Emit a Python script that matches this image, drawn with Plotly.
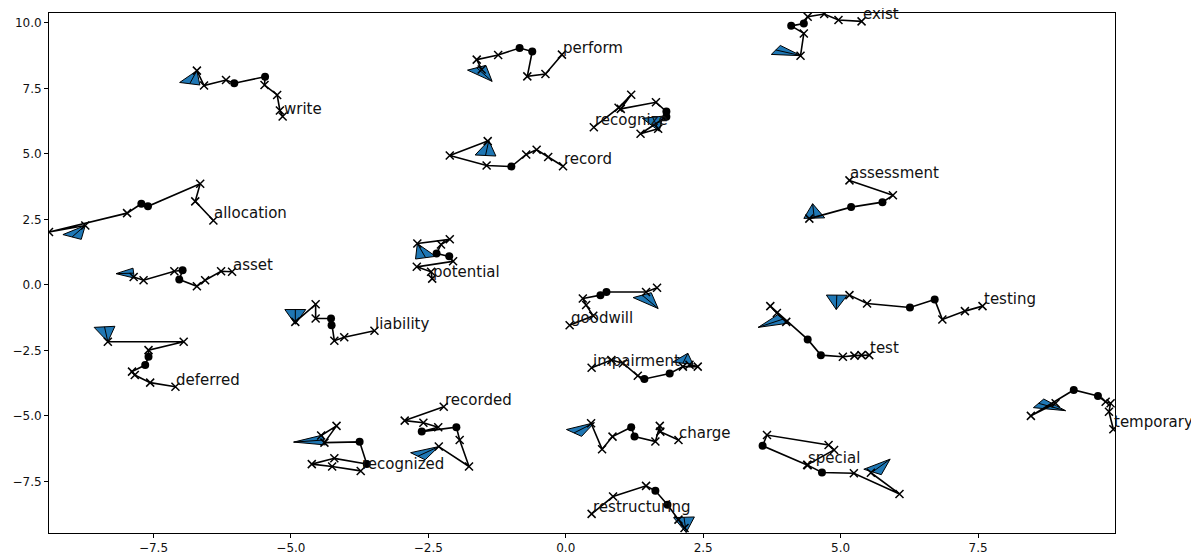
import math
import plotly.graph_objects as go

# ---------------- data ----------------
WORDS = ["write", "perform", "recognize", "record", "exist", "assessment",
         "allocation", "asset", "liability", "deferred", "potential",
         "goodwill", "impairment", "testing", "test", "temporary",
         "recorded", "recognized", "charge", "restructuring", "special"]

write_x = [-5.15, -5.20, -5.25, -5.48, -5.47, -6.03, -6.18, -6.58, -6.71]
write_y = [6.43, 6.66, 7.25, 7.63, 7.95, 7.70, 7.82, 7.61, 8.18]
write_m = "xxxxooxxx"

perform_x = [-0.07, -0.37, -0.70, -0.61, -0.84, -1.23, -1.62, -1.53]
perform_y = [8.79, 8.05, 7.96, 8.91, 9.04, 8.78, 8.60, 8.22]
perform_m = "xxxooxxx"

recognize_x = [0.51, 0.96, 1.19, 1.00, 1.64, 1.83, 1.83, 1.36, 1.68]
recognize_y = [6.02, 6.76, 7.26, 6.72, 6.97, 6.62, 6.42, 5.77, 5.96]
recognize_m = "xxxxxooxx"

record_x = [-0.05, -0.32, -0.53, -0.72, -0.99, -1.44, -2.11, -1.42]
record_y = [4.53, 4.88, 5.16, 4.98, 4.52, 4.56, 4.94, 5.49]
record_m = "xxxxoxxx"

exist_x = [5.38, 4.96, 4.70, 4.40, 4.33, 4.10, 4.33, 4.27]
exist_y = [10.06, 10.11, 10.34, 10.24, 9.98, 9.89, 9.60, 8.75]
exist_m = "xxxxooxx"

assessment_x = [5.16, 5.95, 5.76, 5.19, 4.43]
assessment_y = [3.99, 3.42, 3.16, 2.97, 2.53]
assessment_m = "xxoox"

allocation_x = [-6.41, -6.74, -6.65, -7.60, -7.72, -7.98, -9.40, -8.74]
allocation_y = [2.46, 3.19, 3.86, 3.00, 3.10, 2.74, 2.02, 2.27]
allocation_m = "xxxooxxx"

asset_x = [-6.07, -6.27, -6.56, -6.71, -7.03, -6.97, -7.12, -7.68, -7.86]
asset_y = [0.50, 0.52, 0.18, -0.05, 0.21, 0.56, 0.52, 0.18, 0.30]
asset_m = "xxxxooxxx"

liability_x = [-3.48, -4.03, -4.21, -4.26, -4.27, -4.55, -4.55, -4.92]
liability_y = [-1.75, -2.00, -2.13, -1.54, -1.28, -1.28, -0.74, -1.41]
liability_m = "xxxooxxx"

deferred_x = [-7.10, -7.56, -7.84, -7.89, -7.65, -7.59, -7.59, -6.95, -8.33]
deferred_y = [-3.89, -3.73, -3.44, -3.31, -3.06, -2.74, -2.49, -2.17, -2.17]
deferred_m = "xxxxooxxx"

potential_x = [-2.43, -2.45, -2.71, -2.05, -2.12, -2.35, -2.27, -2.11, -2.70]
potential_y = [0.24, 0.50, 0.69, 0.90, 1.09, 1.20, 1.54, 1.74, 1.58]
potential_m = "xxxxooxxx"

goodwill_x = [0.07, 0.50, 0.37, 0.31, 0.63, 0.74, 1.46, 1.66]
goodwill_y = [-1.54, -1.18, -0.77, -0.52, -0.39, -0.27, -0.27, -0.11]
goodwill_m = "xxxxooxx"

impairment_x = [0.47, 0.83, 1.04, 1.31, 1.43, 1.89, 2.13, 2.40, 2.25]
impairment_y = [-3.16, -2.87, -2.99, -3.47, -3.59, -3.38, -3.12, -3.12, -3.05]
impairment_m = "xxxxooxxx"

testing_x = [7.58, 7.26, 6.85, 6.71, 6.26, 5.48, 5.16]
testing_y = [-0.81, -1.00, -1.32, -0.56, -0.86, -0.71, -0.39]
testing_m = "xxxooxx"

test_x = [5.52, 5.38, 5.25, 5.04, 4.64, 4.40, 3.72, 3.84, 4.01]
test_y = [-2.68, -2.68, -2.70, -2.74, -2.68, -2.08, -0.81, -1.07, -1.41]
test_m = "xxxxooxxx"

temporary_x = [9.96, 9.88, 9.91, 9.82, 9.68, 9.24, 8.46, 8.91]
temporary_y = [-5.51, -4.84, -4.52, -4.46, -4.24, -4.01, -5.00, -4.52]
temporary_m = "xxxxooxx"

recorded_x = [-2.22, -2.93, -2.59, -2.32, -2.62, -1.99, -1.93, -1.76, -2.31]
recorded_y = [-4.65, -5.18, -5.26, -5.43, -5.60, -5.43, -5.92, -6.93, -6.17]
recorded_m = "xxxxooxxx"

recognized_x = [-3.73, -4.25, -4.62, -4.21, -3.62, -3.75, -4.39, -4.17, -4.45]
recognized_y = [-7.10, -6.93, -6.84, -6.62, -6.84, -5.99, -6.02, -5.38, -5.75]
recognized_m = "xxxxooxxx"

charge_x = [2.05, 1.72, 1.71, 1.63, 1.25, 1.19, 0.85, 0.66, 0.46]
charge_y = [-5.92, -5.60, -5.38, -5.98, -5.79, -5.43, -5.79, -6.27, -5.28]
charge_m = "xxxxooxxx"

restructuring_x = [0.47, 0.86, 1.46, 1.63, 1.85, 2.05, 2.16]
restructuring_y = [-8.74, -8.08, -7.67, -7.86, -8.39, -8.96, -9.28]
restructuring_m = "xxxooxx"

special_x = [4.39, 4.88, 4.78, 3.66, 3.58, 4.40, 4.66, 5.24, 6.07, 5.55]
special_y = [-6.87, -6.30, -6.11, -5.73, -6.14, -6.88, -7.16, -7.19, -7.98, -7.17]
special_m = "xxxxoxoxxx"

# arrow heads (tip and base centre), same order as WORDS
arrow_tip_x = [-6.71, -1.34, 1.70, -1.40, 4.28, 4.49, -8.74, -8.18, -4.92, -8.33, -2.70,
               1.68, 2.22, 4.92, 3.50, 9.09, -2.31, -4.95, 0.52, 2.19, 5.90]
arrow_tip_y = [8.18, 7.77, 5.87, 5.51, 8.75, 3.10, 2.27, 0.43, -1.50, -2.17, 1.58,
               -0.90, -2.61, -0.94, -1.62, -4.80, -6.17, -6.00, -5.26, -9.45, -6.65]
arrow_base_x = [-6.84, -1.62, 1.58, -1.46, 3.82, 4.52, -8.98, -7.86, -4.92, -8.39, -2.55,
                1.39, 2.13, 4.93, 3.96, 8.60, -2.69, -4.40, 0.15, 2.15, 5.58]
arrow_base_y = [7.68, 8.29, 6.40, 4.94, 8.97, 2.55, 1.83, 0.45, -0.94, -1.60, 1.04,
                -0.39, -2.99, -0.39, -1.30, -4.52, -6.54, -5.92, -5.65, -8.87, -7.14]

X_TICKS = [-7.5, -5.0, -2.5, 0.0, 2.5, 5.0, 7.5]
Y_TICKS = [-7.5, -5.0, -2.5, 0.0, 2.5, 5.0, 7.5, 10.0]

PATHS = {
    "write": (write_x, write_y, write_m),
    "perform": (perform_x, perform_y, perform_m),
    "recognize": (recognize_x, recognize_y, recognize_m),
    "record": (record_x, record_y, record_m),
    "exist": (exist_x, exist_y, exist_m),
    "assessment": (assessment_x, assessment_y, assessment_m),
    "allocation": (allocation_x, allocation_y, allocation_m),
    "asset": (asset_x, asset_y, asset_m),
    "liability": (liability_x, liability_y, liability_m),
    "deferred": (deferred_x, deferred_y, deferred_m),
    "potential": (potential_x, potential_y, potential_m),
    "goodwill": (goodwill_x, goodwill_y, goodwill_m),
    "impairment": (impairment_x, impairment_y, impairment_m),
    "testing": (testing_x, testing_y, testing_m),
    "test": (test_x, test_y, test_m),
    "temporary": (temporary_x, temporary_y, temporary_m),
    "recorded": (recorded_x, recorded_y, recorded_m),
    "recognized": (recognized_x, recognized_y, recognized_m),
    "charge": (charge_x, charge_y, charge_m),
    "restructuring": (restructuring_x, restructuring_y, restructuring_m),
    "special": (special_x, special_y, special_m),
}

HEAD_WIDTH = 0.38
FONT = "DejaVu Sans"


def fmt(v):
    s = f"{v:.1f}"
    return s.replace("-", "\u2212")


fig = go.Figure()

# arrow heads
hx, hy, mx, my = [], [], [], []
for i, w in enumerate(WORDS):
    tx, ty = arrow_tip_x[i], arrow_tip_y[i]
    bx, by = arrow_base_x[i], arrow_base_y[i]
    dx, dy = tx - bx, ty - by
    L = math.hypot(dx, dy)
    px, py = -dy / L, dx / L
    c1 = (bx + px * HEAD_WIDTH / 2, by + py * HEAD_WIDTH / 2)
    c2 = (bx - px * HEAD_WIDTH / 2, by - py * HEAD_WIDTH / 2)
    hx += [tx, c1[0], c2[0], tx, None]
    hy += [ty, c1[1], c2[1], ty, None]
    mx += [bx, tx, None]
    my += [by, ty, None]

fig.add_trace(go.Scatter(x=hx, y=hy, mode="lines", fill="toself",
                         fillcolor="#1f77b4", line=dict(color="black", width=1),
                         hoverinfo="skip", showlegend=False))
fig.add_trace(go.Scatter(x=mx, y=my, mode="lines",
                         line=dict(color="black", width=1),
                         hoverinfo="skip", showlegend=False))

# trajectories
lx, ly = [], []
xx, xy, ox, oy = [], [], [], []
for w in WORDS:
    xs, ys, ms = PATHS[w]
    lx += list(xs) + [None]
    ly += list(ys) + [None]
    for a, b, m in zip(xs, ys, ms):
        if m == "x":
            xx.append(a); xy.append(b)
        else:
            ox.append(a); oy.append(b)

fig.add_trace(go.Scatter(x=lx, y=ly, mode="lines",
                         line=dict(color="black", width=1.6),
                         hoverinfo="skip", showlegend=False))
fig.add_trace(go.Scatter(x=xx, y=xy, mode="markers",
                         marker=dict(symbol="x-thin", size=8,
                                     line=dict(color="black", width=1.5)),
                         hoverinfo="skip", showlegend=False))
fig.add_trace(go.Scatter(x=ox, y=oy, mode="markers",
                         marker=dict(symbol="circle", size=8, color="black"),
                         hoverinfo="skip", showlegend=False))

for w in WORDS:
    xs, ys, _ = PATHS[w]
    fig.add_annotation(x=xs[0], y=ys[0], text=w, showarrow=False,
                       xanchor="left", yanchor="bottom", yshift=-4, xshift=-1,
                       font=dict(family=FONT, size=15, color="#111111"))

axis_common = dict(showline=True, linecolor="black", linewidth=1, mirror=True,
                   ticks="outside", ticklen=4, tickwidth=1, tickcolor="black",
                   showgrid=False, zeroline=False,
                   tickfont=dict(family=FONT, size=12, color="#111111"))

# the page body adds an 8px offset, so the figure is 8px smaller and margins shifted
fig.update_layout(
    width=1191, height=551,
    margin=dict(l=39, r=84, t=4, b=26),
    plot_bgcolor="white", paper_bgcolor="white",
    xaxis=dict(range=[-9.40, 9.99], tickvals=X_TICKS,
               ticktext=[fmt(v) for v in X_TICKS], **axis_common),
    yaxis=dict(range=[-9.47, 10.38], tickvals=Y_TICKS,
               ticktext=[fmt(v) for v in Y_TICKS], **axis_common),
    showlegend=False,
)

fig.write_html("out.html")
